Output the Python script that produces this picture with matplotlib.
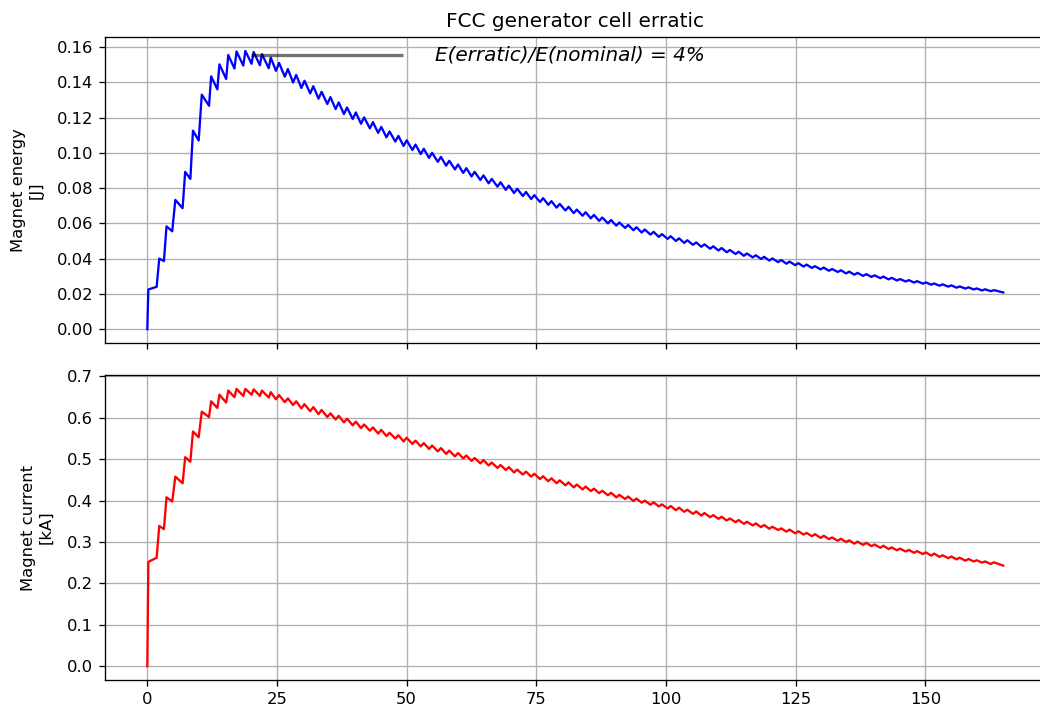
import numpy as np
import matplotlib
matplotlib.use("Agg")
import matplotlib.pyplot as plt

# each tooth: current/energy just before the kick (trough) and right after it (peak)
rise_t = [0.0, 1.8, 3.2, 4.8, 6.8, 8.3, 9.9, 11.9, 13.5, 15.2, 16.8, 18.5, 20.1, 21.7, 23.4,
          24.8, 26.5, 28.1, 29.7, 31.4, 33.0, 34.7, 36.3, 37.9, 39.6, 41.2, 42.9, 44.5, 46.1, 47.8,
          49.4, 51.1, 52.7, 54.3, 56.0, 57.6, 59.3, 60.9, 62.5, 64.2, 65.8, 67.5, 69.1, 70.7, 72.4,
          74.0, 75.7, 77.3, 78.9, 80.6, 82.2, 83.9, 85.5, 87.1, 88.8, 90.4, 92.1, 93.7, 95.3, 97.0,
          98.6, 100.3, 101.9, 103.5, 105.2, 106.8, 108.5, 110.1, 111.7, 113.4, 115.0, 116.7, 118.3,
          119.9, 121.6, 123.2, 124.9, 126.5, 128.1, 129.8, 131.4, 133.1, 134.7, 136.3, 138.0, 139.6,
          141.3, 142.9, 144.5, 146.2, 147.8, 149.5, 151.1, 152.7, 154.4, 156.0, 157.7, 159.3, 160.9,
          162.6]
peak_t = [0.2, 2.3, 3.7, 5.4, 7.3, 8.8, 10.5, 12.3, 13.9, 15.6, 17.2, 18.9, 20.5, 22.1, 23.8,
          25.4, 27.1, 28.7, 30.3, 32.0, 33.6, 35.3, 36.9, 38.5, 40.2, 41.8, 43.5, 45.1, 46.7, 48.4,
          50.0, 51.7, 53.3, 54.9, 56.6, 58.2, 59.9, 61.5, 63.1, 64.8, 66.4, 68.1, 69.7, 71.3, 73.0,
          74.6, 76.3, 77.9, 79.5, 81.2, 82.8, 84.5, 86.1, 87.7, 89.4, 91.0, 92.7, 94.3, 95.9, 97.6,
          99.2, 100.9, 102.5, 104.1, 105.8, 107.4, 109.1, 110.7, 112.3, 114.0, 115.6, 117.3, 118.9,
          120.5, 122.2, 123.8, 125.5, 127.1, 128.7, 130.4, 132.0, 133.7, 135.3, 136.9, 138.6, 140.2,
          141.9, 143.5, 145.1, 146.8, 148.4, 150.1, 151.7, 153.3, 155.0, 156.6, 158.3, 159.9, 161.5,
          163.2]
t_end = 165.0

energy_trough = [0.0, 0.0240, 0.0386, 0.0555, 0.0686, 0.0852, 0.1070, 0.1267, 0.1360, 0.1419,
                 0.1478, 0.1495, 0.1505, 0.1497, 0.1480,
                 0.1465, 0.1432, 0.1399, 0.1368, 0.1337, 0.1307, 0.1277, 0.1248, 0.1220, 0.1192,
                 0.1165, 0.1139, 0.1113, 0.1088, 0.1064, 0.1039, 0.1016, 0.0993, 0.0971, 0.0949,
                 0.0927, 0.0906, 0.0886, 0.0866, 0.0846, 0.0827, 0.0808, 0.0790, 0.0772, 0.0755,
                 0.0738, 0.0721, 0.0705, 0.0689, 0.0673, 0.0658, 0.0643, 0.0628, 0.0614, 0.0600,
                 0.0587, 0.0574, 0.0561, 0.0548, 0.0536, 0.0523, 0.0512, 0.0500, 0.0489, 0.0478,
                 0.0467, 0.0456, 0.0446, 0.0436, 0.0426, 0.0416, 0.0407, 0.0398, 0.0389, 0.0380,
                 0.0371, 0.0363, 0.0355, 0.0347, 0.0339, 0.0331, 0.0324, 0.0316, 0.0309, 0.0302,
                 0.0296, 0.0289, 0.0282, 0.0276, 0.0270, 0.0264, 0.0258, 0.0252, 0.0246, 0.0241,
                 0.0235, 0.0230, 0.0225, 0.0219, 0.0215]
energy_peak = [0.0225, 0.0400, 0.0583, 0.0733, 0.0892, 0.1126, 0.1330, 0.1434, 0.1502, 0.1555,
               0.1575, 0.1578, 0.1572, 0.1560, 0.1540,
               0.1510, 0.1475, 0.1442, 0.1409, 0.1378, 0.1346, 0.1316, 0.1286, 0.1257, 0.1229,
               0.1201, 0.1174, 0.1147, 0.1121, 0.1096, 0.1071, 0.1047, 0.1023, 0.1000, 0.0977,
               0.0955, 0.0934, 0.0913, 0.0892, 0.0872, 0.0852, 0.0833, 0.0814, 0.0796, 0.0778,
               0.0760, 0.0743, 0.0726, 0.0710, 0.0694, 0.0678, 0.0663, 0.0648, 0.0633, 0.0619,
               0.0605, 0.0591, 0.0578, 0.0565, 0.0552, 0.0539, 0.0527, 0.0515, 0.0504, 0.0492,
               0.0481, 0.0470, 0.0460, 0.0449, 0.0439, 0.0429, 0.0419, 0.0410, 0.0401, 0.0392,
               0.0383, 0.0374, 0.0366, 0.0357, 0.0349, 0.0341, 0.0334, 0.0326, 0.0319, 0.0312,
               0.0305, 0.0298, 0.0291, 0.0284, 0.0278, 0.0272, 0.0265, 0.0259, 0.0254, 0.0248,
               0.0242, 0.0237, 0.0231, 0.0226, 0.0221]
energy_end = 0.0208

current_trough = [0.0, 0.262, 0.331, 0.398, 0.442, 0.494, 0.553, 0.602, 0.624, 0.637,
                  0.650, 0.653, 0.656, 0.653, 0.649,
                  0.645, 0.638, 0.631, 0.623, 0.616, 0.609, 0.602, 0.596, 0.589, 0.582,
                  0.575, 0.569, 0.562, 0.556, 0.550, 0.543, 0.537, 0.531, 0.525, 0.519,
                  0.513, 0.507, 0.502, 0.496, 0.490, 0.485, 0.479, 0.474, 0.468, 0.463,
                  0.458, 0.452, 0.447, 0.442, 0.437, 0.432, 0.427, 0.423, 0.418, 0.413,
                  0.408, 0.404, 0.399, 0.395, 0.390, 0.386, 0.381, 0.377, 0.373, 0.368,
                  0.364, 0.360, 0.356, 0.352, 0.348, 0.344, 0.340, 0.336, 0.332, 0.329,
                  0.325, 0.321, 0.318, 0.314, 0.310, 0.307, 0.303, 0.300, 0.296, 0.293,
                  0.290, 0.286, 0.283, 0.280, 0.277, 0.274, 0.271, 0.267, 0.264, 0.261,
                  0.258, 0.255, 0.253, 0.250, 0.247]
current_peak = [0.252, 0.339, 0.408, 0.458, 0.505, 0.567, 0.615, 0.640, 0.656, 0.666,
                0.670, 0.670, 0.669, 0.666, 0.662,
                0.655, 0.647, 0.640, 0.633, 0.626, 0.619, 0.611, 0.605, 0.598, 0.591,
                0.584, 0.577, 0.571, 0.564, 0.558, 0.552, 0.545, 0.539, 0.533, 0.527,
                0.521, 0.515, 0.509, 0.503, 0.498, 0.492, 0.486, 0.481, 0.475, 0.470,
                0.465, 0.459, 0.454, 0.449, 0.444, 0.439, 0.434, 0.429, 0.424, 0.419,
                0.414, 0.410, 0.405, 0.400, 0.396, 0.391, 0.387, 0.383, 0.378, 0.374,
                0.370, 0.365, 0.361, 0.357, 0.353, 0.349, 0.345, 0.341, 0.337, 0.333,
                0.330, 0.326, 0.322, 0.319, 0.315, 0.311, 0.308, 0.304, 0.301, 0.298,
                0.294, 0.291, 0.287, 0.284, 0.281, 0.278, 0.275, 0.272, 0.268, 0.265,
                0.262, 0.259, 0.256, 0.253, 0.251]
current_end = 0.243

# horizontal marker at the energy maximum
marker_t = [20.0, 49.2]
marker_val = 0.1557
ratio_text = "E(erratic)/E(nominal) = 4%"


def zigzag(lo, hi, last):
    t = np.column_stack([rise_t, peak_t]).ravel()
    v = np.column_stack([lo, hi]).ravel()
    return np.append(t, t_end), np.append(v, last)


t_e, e = zigzag(energy_trough, energy_peak, energy_end)
t_i, cur = zigzag(current_trough, current_peak, current_end)

DPI = 118
fig = plt.figure(figsize=(1040 / DPI, 708 / DPI), dpi=DPI)
ax1 = fig.add_axes([0.1005, 0.5155, 0.9053, 0.4322])
ax2 = fig.add_axes([0.1005, 0.0395, 0.9053, 0.4308], sharex=ax1)

ax1.plot(t_e, e, color='blue', lw=1.4)
ax1.hlines(marker_val, marker_t[0], marker_t[1], color='k', alpha=0.55, lw=2)
ax1.text(55.4, marker_val, ratio_text, fontsize=12.2, style='italic', va='center')
ax1.set_title('FCC generator cell erratic', fontsize=12.2)
ax1.set_ylabel('Magnet energy\n[J]', labelpad=8)
ax1.grid(True)
ax1.tick_params(labelbottom=False)

ax2.plot(t_i, cur, color='red', lw=1.4)
ax2.set_ylabel('Magnet current\n[kA]', labelpad=8)
ax2.grid(True)

fig.savefig('out.png', dpi=DPI)
